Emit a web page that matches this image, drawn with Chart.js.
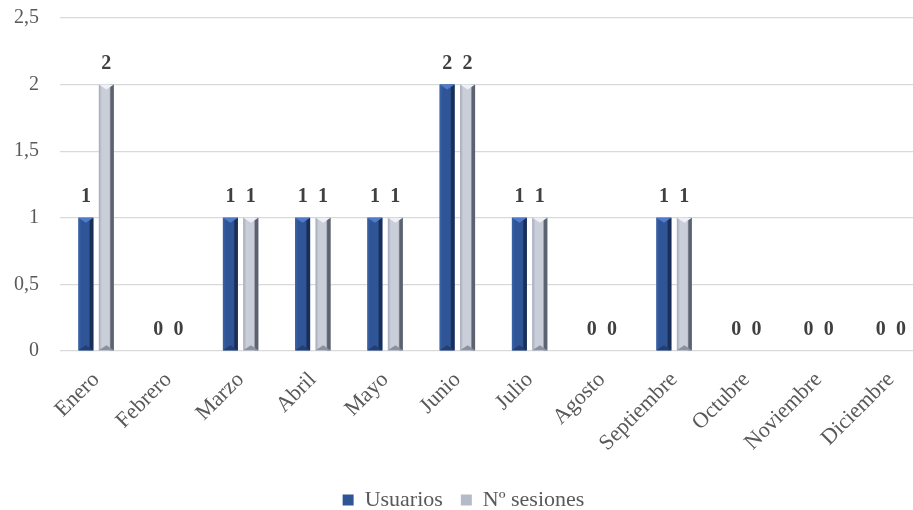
<!DOCTYPE html>
<html>
<head>
<meta charset="utf-8">
<script src="https://cdn.jsdelivr.net/npm/chart.js@4/dist/chart.umd.min.js"></script>
<style>
  html, body { margin: 0; padding: 0; background: #fff; overflow: hidden; }
  #wrap { width: 956px; height: 510px; }
</style>
</head>
<body>
<div id="wrap"><canvas id="chart" width="956" height="510"></canvas></div>
<script>
const meses = ['Enero', 'Febrero', 'Marzo', 'Abril', 'Mayo', 'Junio', 'Julio', 'Agosto', 'Septiembre', 'Octubre', 'Noviembre', 'Diciembre'];
const usuarios = [1, 0, 1, 1, 1, 2, 1, 0, 1, 0, 0, 0];
const sesiones = [2, 0, 1, 1, 1, 2, 1, 0, 1, 0, 0, 0];
const yMax = 2.5;
const yStep = 0.5;

const serif = "'Liberation Serif', 'Times New Roman', serif";

// shading of each bar (bevel look), drawn over the bars the library placed
const bevel = [
  { left: '#3b63a8', mid: '#2f5597', right: '#1a2f57', top: '#4f7ccc', bottom: '#213f73' },
  { left: '#a3abb9', mid: '#c9ced8', right: '#5c636f', top: '#eef1f6', bottom: '#8a92a0' }
];

const bevelPlugin = {
  id: 'bevel',
  afterDatasetsDraw(chart) {
    const ctx = chart.ctx;
    chart.data.datasets.forEach((ds, i) => {
      const c = bevel[i];
      chart.getDatasetMeta(i).data.forEach(el => {
        const { x, y, base, width } = el.getProps(['x', 'y', 'base', 'width'], true);
        if (base - y < 1) return;
        const l = x - width / 2, r = x + width / 2;
        const g = ctx.createLinearGradient(l, 0, r, 0);
        g.addColorStop(0, c.left);
        g.addColorStop(0.2, c.mid);
        g.addColorStop(0.7, c.mid);
        g.addColorStop(0.8, c.right);
        g.addColorStop(1, c.right);
        ctx.save();
        ctx.fillStyle = g;
        ctx.fillRect(l, y, width, base - y);
        const t = Math.min(5, (base - y) / 2);
        ctx.fillStyle = c.top;
        ctx.beginPath();
        ctx.moveTo(l, y); ctx.lineTo(r, y); ctx.lineTo(x, y + t); ctx.closePath();
        ctx.fill();
        ctx.fillStyle = c.bottom;
        ctx.beginPath();
        ctx.moveTo(l, base); ctx.lineTo(r, base); ctx.lineTo(x, base - t); ctx.closePath();
        ctx.fill();
        ctx.restore();
      });
    });
  }
};

const labelPlugin = {
  id: 'valueLabels',
  afterDatasetsDraw(chart) {
    const ctx = chart.ctx;
    ctx.save();
    ctx.font = "bold 20px " + serif;
    ctx.fillStyle = '#404040';
    ctx.textAlign = 'center';
    ctx.textBaseline = 'alphabetic';
    chart.data.datasets.forEach((ds, i) => {
      chart.getDatasetMeta(i).data.forEach((el, j) => {
        const { x, y } = el.getProps(['x', 'y'], true);
        ctx.fillText(String(ds.data[j]), x, y - 16);
      });
    });
    ctx.restore();
  }
};

new Chart(document.getElementById('chart'), {
  type: 'bar',
  data: {
    labels: meses,
    datasets: [
      { label: 'Usuarios', data: usuarios, backgroundColor: '#2f5597', borderWidth: 0 },
      { label: 'Nº sesiones', data: sesiones, backgroundColor: '#b4bac6', borderWidth: 0 }
    ]
  },
  options: {
    responsive: false,
    animation: false,
    categoryPercentage: 0.567,
    barPercentage: 0.73,
    layout: { padding: { top: 18, right: 29, left: 0, bottom: -11 } },
    plugins: {
      tooltip: { enabled: false },
      legend: {
        position: 'bottom',
        labels: {
          color: '#595959',
          font: { family: serif, size: 22 },
          boxWidth: 11,
          boxHeight: 11,
          padding: 18
        }
      }
    },
    scales: {
      x: {
        grid: { display: false },
        border: { display: false },
        ticks: {
          color: '#595959',
          font: { family: serif, size: 22 },
          minRotation: 45,
          maxRotation: 45,
          padding: 8,
          autoSkip: false
        },
        afterFit(s) { s.height = 120; }
      },
      y: {
        min: 0,
        max: yMax,
        border: { display: false },
        grid: { color: '#d9d9d9', lineWidth: 1.3, drawTicks: false },
        ticks: {
          stepSize: yStep,
          color: '#595959',
          font: { family: serif, size: 20 },
          padding: 21,
          callback: v => String(v).replace('.', ',')
        },
        afterFit(s) {
          s.width = 60;
          s.paddingTop = 0;
          s.paddingBottom = 0;
        }
      }
    }
  },
  plugins: [bevelPlugin, labelPlugin]
});
</script>
</body>
</html>
